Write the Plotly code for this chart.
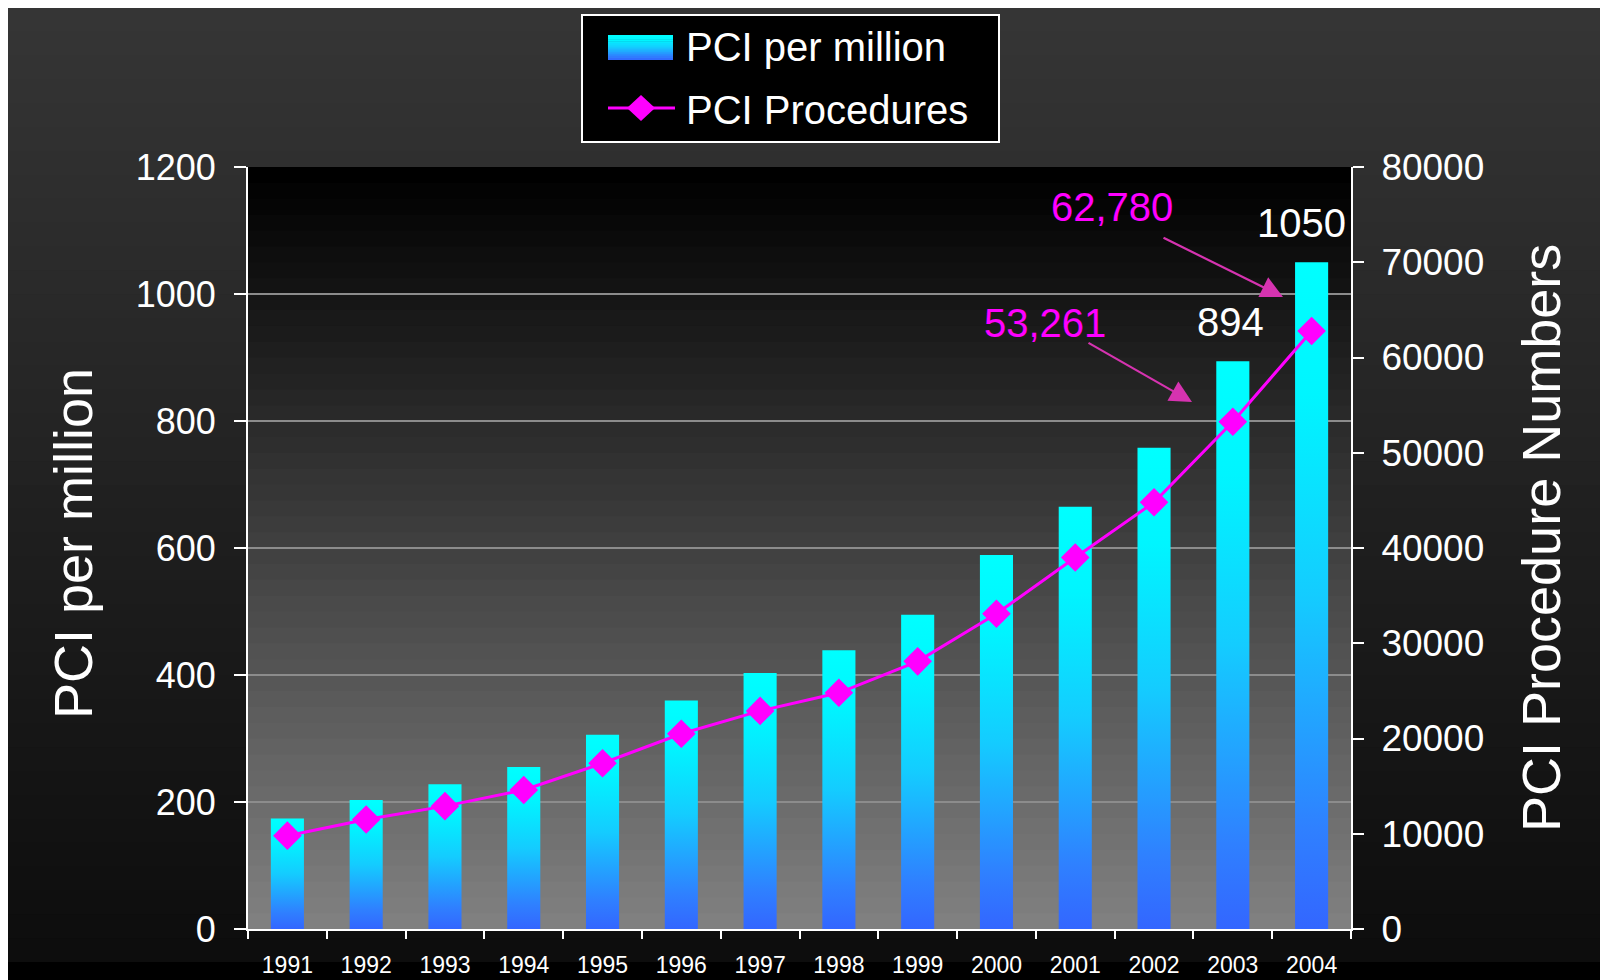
import plotly.graph_objects as go

# ---------------- data ----------------
years = ["1991", "1992", "1993", "1994", "1995", "1996", "1997",
         "1998", "1999", "2000", "2001", "2002", "2003", "2004"]
pci_per_million = [174, 203, 228, 255, 306, 360, 403, 439, 495, 589, 665, 758, 894, 1050]
pci_procedures = [9800, 11500, 12900, 14600, 17400, 20500, 22900,
                  24800, 28100, 33100, 39000, 44800, 53261, 62780]
bar_labels = ["894", "1050"]          # labelled bars (2003, 2004)
bar_label_years = ["2003", "2004"]
proc_labels = ["53,261", "62,780"]

# ---------------- geometry / style ----------------
OFF = 8                      # page body margin offset
W, H = 1600, 972
L, T = 240, 159
PLOT_R, PLOT_B = 1343, 921   # figure coords
R, B = W - PLOT_R, H - PLOT_B
PW, PH = PLOT_R - L, PLOT_B - T
FONT = "Liberation Sans, Arial, sans-serif"
BAR_HALF = 0.21
MAGENTA = "#ff00ff"
ARROW = "#d633b0"
BAR_SCALE = [[0, "#3366ff"], [0.15, "#2f80ff"], [0.5, "#14ccff"],
             [0.8, "#00f5ff"], [1, "#00ffff"]]
LABEL_XSHIFT = [-2, -10]


def px(xv):  # viewport pixel -> paper
    return (xv - OFF - L) / PW


def py(yv):
    return (PLOT_B - (yv - OFF)) / PH


def hex2rgb(c):
    return [int(c[i:i + 2], 16) for i in (1, 3, 5)]


def lerp_hex(c0, c1, t):
    a, b = hex2rgb(c0), hex2rgb(c1)
    return "#" + "".join(f"{round(a[k] + (b[k] - a[k]) * t):02x}" for k in range(3))


def scale_color(scale, t):
    for (t0, c0), (t1, c1) in zip(scale[:-1], scale[1:]):
        if t <= t1:
            return lerp_hex(c0, c1, (t - t0) / (t1 - t0) if t1 > t0 else 0)
    return scale[-1][1]


idx = list(range(len(years)))
fig = go.Figure()

# bars: vertical gradient fill (blue at base -> cyan at top)
for i, v in zip(idx, pci_per_million):
    fig.add_trace(go.Scatter(
        x=[i - BAR_HALF, i + BAR_HALF, i + BAR_HALF, i - BAR_HALF, i - BAR_HALF],
        y=[0, 0, v, v, 0],
        mode="lines", fill="toself",
        line=dict(width=0, color="rgba(0,0,0,0)"),
        fillgradient=dict(type="vertical", colorscale=BAR_SCALE),
        name="PCI per million", showlegend=False, hoverinfo="skip",
        xaxis="x", yaxis="y"))

# line: procedures on right axis
fig.add_trace(go.Scatter(
    x=idx, y=pci_procedures, mode="lines+markers", name="PCI Procedures",
    line=dict(color=MAGENTA, width=3),
    marker=dict(symbol="diamond", size=22, color=MAGENTA),
    xaxis="x", yaxis="y2", showlegend=False))

shapes = []
# outer slide background gradient
NB = 40
y_top, y_bot = 8, 962
for k in range(NB):
    ya = y_top + (y_bot - y_top) * k / NB
    yb = y_top + (y_bot - y_top) * (k + 1) / NB + (1.5 if k < NB - 1 else 0)
    shapes.append(dict(type="rect", xref="paper", yref="paper", layer="below",
                       x0=px(8), x1=px(OFF + W), y0=py(yb), y1=py(ya),
                       fillcolor=lerp_hex("#353535", "#0d0d0d", k / (NB - 1)),
                       line=dict(width=0)))
# plot area gradient (black top -> grey bottom)
NP = 48
for k in range(NP):
    shapes.append(dict(type="rect", xref="x domain", yref="y domain", layer="below",
                       x0=0, x1=1, y0=max(0, 1 - (k + 1) / NP - 0.003), y1=1 - k / NP,
                       fillcolor=lerp_hex("#000000", "#808080", k / (NP - 1)),
                       line=dict(width=0)))

# manual legend
shapes.append(dict(type="rect", xref="paper", yref="paper",
                   x0=px(582), x1=px(999), y0=py(142), y1=py(15),
                   fillcolor="black", line=dict(color="white", width=2)))
NS = 12
for k in range(NS):
    ya = 35 + 25 * k / NS
    yb = 35 + 25 * (k + 1) / NS + (0.6 if k < NS - 1 else 0)
    shapes.append(dict(type="rect", xref="paper", yref="paper",
                       x0=px(608), x1=px(673), y0=py(yb), y1=py(ya),
                       fillcolor=scale_color(BAR_SCALE, 1 - (k + 0.5) / NS),
                       line=dict(width=0)))
shapes.append(dict(type="line", xref="paper", yref="paper",
                   x0=px(608), x1=px(675), y0=py(108), y1=py(108),
                   line=dict(color=MAGENTA, width=3)))
cx, cy = 641, 108
shapes.append(dict(type="path", xref="paper", yref="paper",
                   path=(f"M {px(cx - 14)},{py(cy)} L {px(cx)},{py(cy - 13)} "
                         f"L {px(cx + 14)},{py(cy)} L {px(cx)},{py(cy + 13)} Z"),
                   fillcolor=MAGENTA, line=dict(width=0)))

annotations = [
    dict(text="PCI per million", x=px(684), y=py(47), xref="paper", yref="paper",
         xanchor="left", yanchor="middle", showarrow=False,
         font=dict(size=40, color="white", family=FONT)),
    dict(text="PCI Procedures", x=px(684), y=py(110), xref="paper", yref="paper",
         xanchor="left", yanchor="middle", showarrow=False,
         font=dict(size=40, color="white", family=FONT)),
    # axis titles
    dict(text="PCI per million", x=px(73), y=py(544), xref="paper", yref="paper",
         textangle=-90, xanchor="center", yanchor="middle", showarrow=False,
         font=dict(size=54, color="white", family=FONT)),
    dict(text="PCI Procedure Numbers", x=px(1541), y=py(538), xref="paper", yref="paper",
         textangle=-90, xanchor="center", yanchor="middle", showarrow=False,
         font=dict(size=54, color="white", family=FONT)),
]

# bar value labels
for lab, yr, xs in zip(bar_labels, bar_label_years, LABEL_XSHIFT):
    i = years.index(yr)
    annotations.append(dict(text=lab, x=i, y=pci_per_million[i], xref="x", yref="y",
                            xanchor="center", yanchor="middle", showarrow=False,
                            xshift=xs, yshift=39,
                            font=dict(size=40, color="white", family=FONT)))

# procedure labels with arrows
proc_text_pos = [(1045, 323), (1112, 207)]
arrow_geo = [((1192, 402), (1087, 342)), ((1283, 297), (1162, 237))]
for lab, (tx, ty), ((hx, hy), (sx, sy)) in zip(proc_labels, proc_text_pos, arrow_geo):
    annotations.append(dict(text=lab, x=px(tx), y=py(ty), xref="paper", yref="paper",
                            xanchor="center", yanchor="middle", showarrow=False,
                            font=dict(size=40, color=MAGENTA, family=FONT)))
    annotations.append(dict(text="", x=px(hx), y=py(hy), xref="paper", yref="paper",
                            ax=sx - hx, ay=sy - hy, showarrow=True,
                            arrowhead=2, arrowsize=2, arrowwidth=2.2,
                            arrowcolor=ARROW, standoff=0))

fig.update_layout(
    width=W, height=H, autosize=False,
    margin=dict(l=L, r=R, t=T, b=B, pad=0, autoexpand=False),
    paper_bgcolor="black", plot_bgcolor="rgba(0,0,0,0)",
    showlegend=False,
    font=dict(family=FONT, color="white"),
    shapes=shapes, annotations=annotations,
    xaxis=dict(range=[-0.5, len(years) - 0.5], tickmode="array",
               tickvals=idx, ticktext=years, ticks="", automargin=False,
               tickfont=dict(size=23, color="white", family=FONT),
               ticklabelstandoff=14,
               showline=True, linecolor="white", linewidth=2,
               showgrid=False, zeroline=False, fixedrange=True,
               minor=dict(tickmode="linear", tick0=-0.5, dtick=1, ticks="outside",
                          ticklen=8, tickwidth=2, tickcolor="white", showgrid=False)),
    yaxis=dict(range=[0, 1200], tickmode="linear", tick0=0, dtick=200,
               ticks="outside", ticklen=12, tickwidth=2, tickcolor="white",
               tickfont=dict(size=36, color="white", family=FONT),
               ticklabelstandoff=11, automargin=False,
               showline=True, linecolor="white", linewidth=2,
               showgrid=True, gridcolor="#8c8c8c", gridwidth=2, zeroline=False),
    yaxis2=dict(range=[0, 80000], tickmode="linear", tick0=0, dtick=10000,
                tickformat="d",
                overlaying="y", side="right", automargin=False,
                ticks="outside", ticklen=11, tickwidth=2, tickcolor="white",
                tickfont=dict(size=37, color="white", family=FONT),
                ticklabelstandoff=10,
                showline=True, linecolor="white", linewidth=2,
                showgrid=False, zeroline=False),
)

fig.write_html("out.html")
